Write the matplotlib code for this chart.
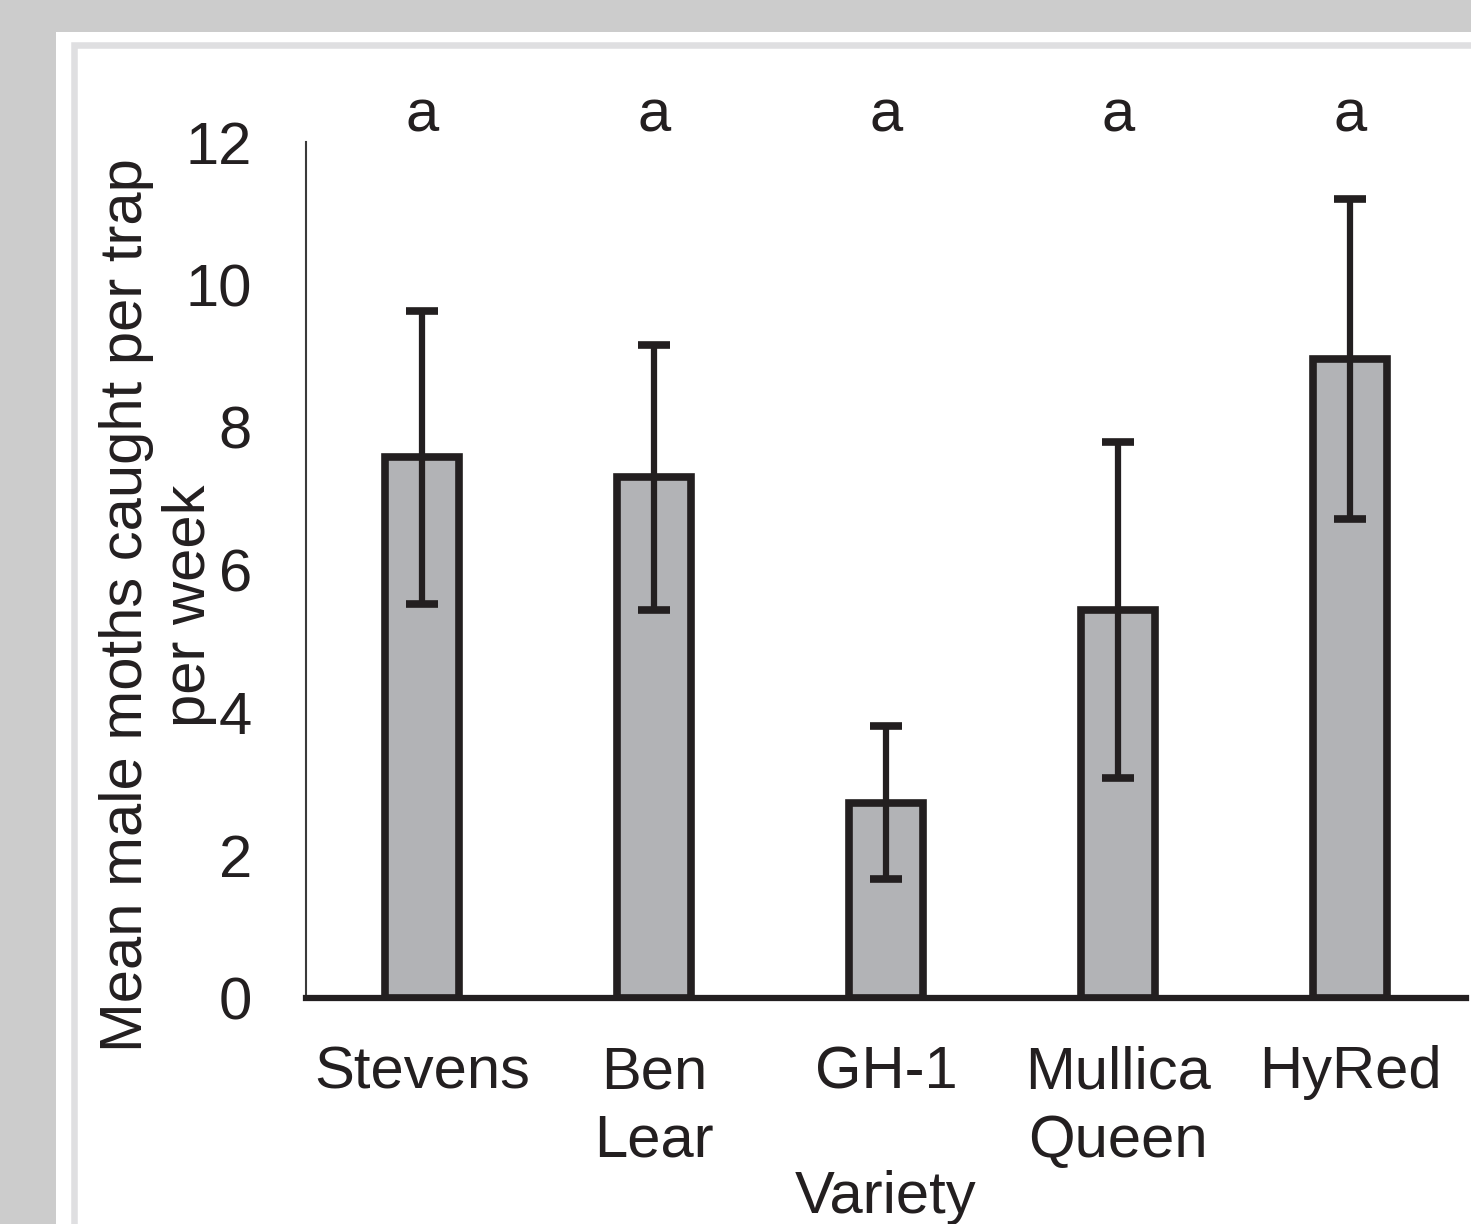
import matplotlib
matplotlib.use("Agg")
import matplotlib.pyplot as plt
from matplotlib.patches import Rectangle

plt.rcParams['font.family'] = ['Liberation Sans', 'DejaVu Sans']

varieties = ["Stevens", "Ben\nLear", "GH-1", "Mullica\nQueen", "HyRed"]
means = [7.58, 7.30, 2.74, 5.44, 8.96]
errors = [2.05, 1.86, 1.07, 2.36, 2.24]
letters = ["a", "a", "a", "a", "a"]
yticks = [0, 2, 4, 6, 8, 10, 12]

W, H = 1471, 1224
dark = "#231f20"
fill = "#b2b3b6"
fs = 43

fig = plt.figure(figsize=(W / 100, H / 100), dpi=100, facecolor="#cccccc")

# white panel and light frame
fig.patches.append(Rectangle((56 / W, 0), 1, (H - 32) / H, transform=fig.transFigure,
                             facecolor="white", edgecolor="none", zorder=-10))
fig.patches.append(Rectangle((74 / W, -0.2), 1.2, (H - 45) / H + 0.2, transform=fig.transFigure,
                             facecolor="none", edgecolor="#dfdfe1", linewidth=4.7, zorder=-9))

ax = fig.add_axes([306 / W, 226 / H, 1160 / W, 856 / H])
ax.set_facecolor("none")
x = list(range(len(varieties)))
ax.bar(x, means, width=0.318, color=fill, edgecolor=dark, linewidth=5.5, zorder=2)
ax.errorbar(x, means, yerr=errors, fmt="none", ecolor=dark, elinewidth=4.5,
            capsize=11.5, capthick=5.5, zorder=3)

for xi, letter in zip(x, letters):
    ax.text(xi, 12.145, letter, ha="center", va="baseline", fontsize=fs,
            color=dark, clip_on=False)

ax.set_xlim(-0.5, 4.5)
ax.set_ylim(0, 12)
ax.set_yticks(yticks)
ax.set_yticklabels([str(t) for t in yticks])
ax.set_xticks(x)
ax.set_xticklabels(varieties, linespacing=1.31)
ax.tick_params(axis="y", length=0, pad=39, labelsize=fs, labelcolor=dark)
ax.tick_params(axis="x", length=0, pad=34, labelsize=fs, labelcolor=dark)

for s in ["top", "right"]:
    ax.spines[s].set_visible(False)
ax.spines["left"].set_linewidth(1.5)
ax.spines["left"].set_color("#3a3a3a")
ax.spines["bottom"].set_linewidth(4.5)
ax.spines["bottom"].set_color(dark)
ax.spines["bottom"].set_zorder(4)

fig.text(158 / W, (H - 605.5) / H, "Mean male moths caught per trap\nper week",
         rotation=90, ha="center", va="center", multialignment="center",
         fontsize=fs, color=dark, linespacing=1.18)
fig.text(886 / W, (H - 1213) / H, "Variety", ha="center", va="baseline",
         fontsize=fs, color=dark)

fig.savefig("out.png", dpi=100, facecolor=fig.get_facecolor())
